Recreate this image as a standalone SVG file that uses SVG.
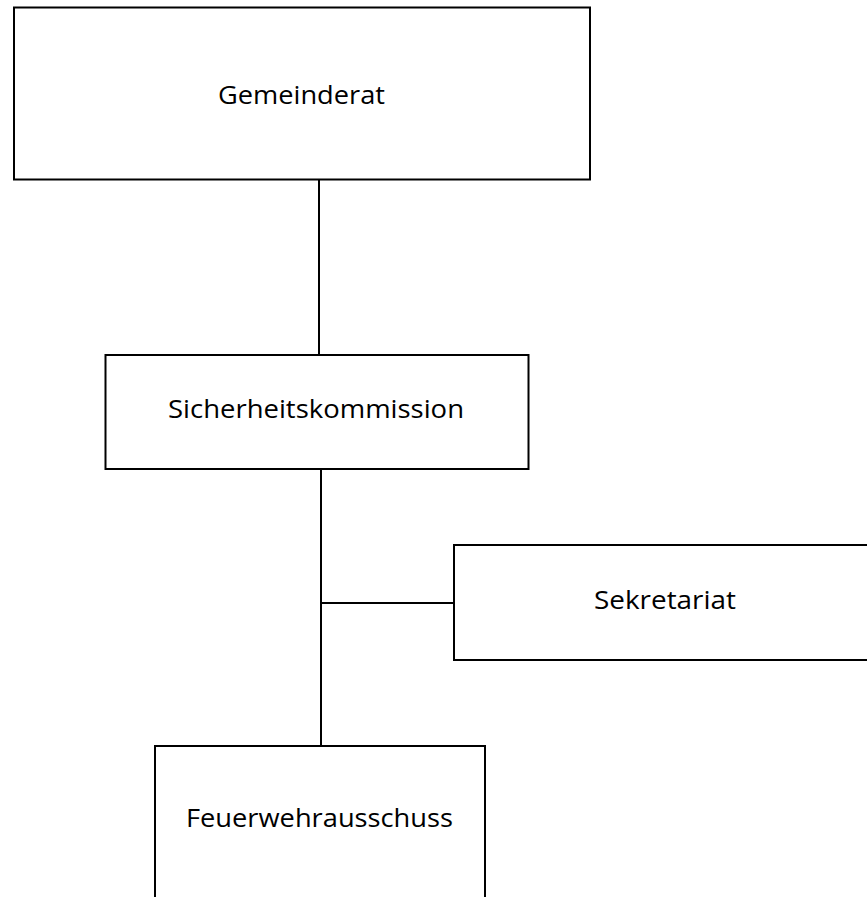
<svg xmlns="http://www.w3.org/2000/svg" width="867" height="897" viewBox="0 0 867 897">
<style>
.box{fill:#fff;stroke:#000;stroke-width:2}
.ln{stroke:#000;stroke-width:2;fill:none}
text{font-family:"Open Sans","Liberation Sans",sans-serif;font-size:26px;fill:#000;text-anchor:middle}
</style>
<rect width="867" height="897" fill="#fff"/>
<g id="connectors">
<line class="ln" x1="319" y1="180" x2="319" y2="355"/>
<line class="ln" x1="321" y1="469" x2="321" y2="746"/>
<line class="ln" x1="320" y1="603" x2="454" y2="603"/>
</g>
<g id="gemeinderat">
<rect class="box" x="14" y="7.5" width="576" height="172"/>
<text x="301.5" y="103.5" textLength="167" lengthAdjust="spacingAndGlyphs">Gemeinderat</text>
</g>
<g id="sicherheitskommission">
<rect class="box" x="105.5" y="355" width="423" height="114"/>
<text x="316" y="418" textLength="296" lengthAdjust="spacingAndGlyphs">Sicherheitskommission</text>
</g>
<g id="sekretariat">
<rect class="box" x="454" y="545" width="420" height="115"/>
<text x="665" y="609" textLength="142" lengthAdjust="spacingAndGlyphs">Sekretariat</text>
</g>
<g id="feuerwehrausschuss">
<rect class="box" x="155" y="746" width="330" height="170"/>
<text x="319.5" y="826.5" textLength="267" lengthAdjust="spacingAndGlyphs">Feuerwehrausschuss</text>
</g>
</svg>
